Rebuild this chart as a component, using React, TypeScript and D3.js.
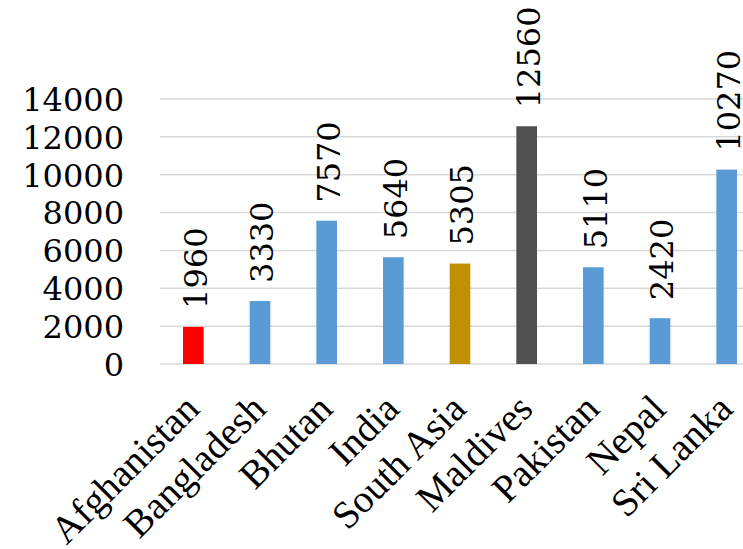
import React from "react";
import * as d3 from "d3";

const categories = ["Afghanistan", "Bangladesh", "Bhutan", "India", "South Asia", "Maldives", "Pakistan", "Nepal", "Sri Lanka"];
const values = [1960, 3330, 7570, 5640, 5305, 12560, 5110, 2420, 10270];
const barColors = ["#ff0000", "#5b9bd5", "#5b9bd5", "#5b9bd5", "#bf9000", "#505050", "#5b9bd5", "#5b9bd5", "#5b9bd5"];
const yTicks = [0, 2000, 4000, 6000, 8000, 10000, 12000, 14000];

const W = 743;
const H = 549;
const NUM_FONT = "DejaVu Serif";
const CAT_FONT = "Liberation Serif";

export default function App() {
  const x = d3.scaleBand<string>().domain(categories).range([160, 760]).padding(0);
  const y = d3.scaleLinear().domain([0, 14000]).range([364, 99]);
  const bw = x.bandwidth() * 0.31;

  return (
    <svg
      width={W}
      height={H}
      style={{ position: "absolute", left: 0, top: 0, background: "#fff" }}
    >
      {yTicks.map((t) => (
        <g key={t}>
          <line x1={160} x2={W} y1={y(t)} y2={y(t)} stroke="#d9d9d9" strokeWidth={1.5} />
          <text x={124} y={y(t)} dy="0.37em" textAnchor="end" fontSize={32} fill="#000" style={{ fontFamily: NUM_FONT }}>
            {t}
          </text>
        </g>
      ))}
      {categories.map((c, i) => {
        const cx = (x(c) as number) + x.bandwidth() / 2;
        const top = y(values[i]);
        return (
          <g key={c}>
            <rect x={cx - bw / 2} y={top} width={bw} height={y(0) - top} fill={barColors[i]} />
            <text
              transform={`translate(${cx + 1.5},${top - 18}) rotate(-90)`}
              dy="0.37em"
              textAnchor="start"
              fontSize={32}
              fill="#000"
              style={{ fontFamily: NUM_FONT }}
            >
              {values[i]}
            </text>
            <text
              transform={`translate(${cx + 8},${411}) rotate(-45)`}
              textAnchor="end"
              fontSize={39}
              fill="#000"
              style={{ fontFamily: CAT_FONT }}
            >
              {c}
            </text>
          </g>
        );
      })}
    </svg>
  );
}
